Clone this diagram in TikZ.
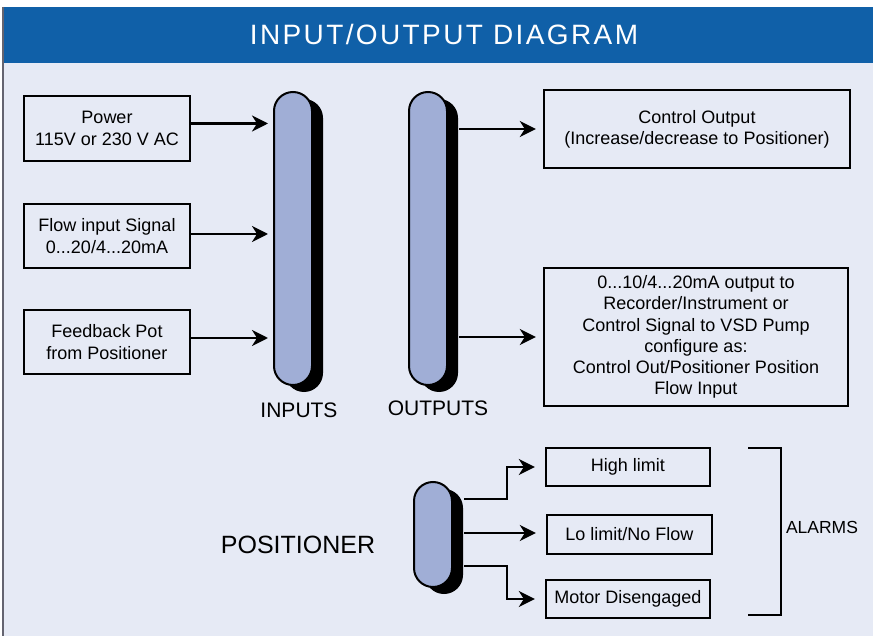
\documentclass[tikz,border=0pt]{standalone}
\usepackage{fontspec}
\setmainfont{Liberation Sans}
\usetikzlibrary{arrows.meta,shadows}
\definecolor{hdr}{RGB}{16,96,168}
\definecolor{bg}{RGB}{230,234,245}
\definecolor{pillc}{RGB}{160,174,214}
\definecolor{edge}{RGB}{100,100,112}
\tikzset{
  box/.style={draw=black, line width=2.4pt, fill=bg, align=center, inner sep=0pt,
    font=\fontsize{18}{21.3}\selectfont},
  pill/.style={draw=black, line width=2pt, fill=pillc, rounded corners=19pt,
    minimum width=38pt, inner sep=0pt,
    drop shadow={shadow xshift=11pt, shadow yshift=-7pt, fill=black, opacity=1}},
  arr/.style={line width=2.3pt, -{Stealth[length=16pt,width=16pt,inset=5pt]}},
  lbl/.style={font=\fontsize{21}{24}\selectfont, inner sep=0pt}
}
\begin{document}
\begin{tikzpicture}[x=1pt,y=-1pt]
\useasboundingbox (0,0) rectangle (873,636);
\fill[white] (0,0) rectangle (873,636);
\fill[bg] (3,63) rectangle (873,636);
\fill[hdr] (2,7) rectangle (873,63);
\draw[edge, line width=1.5pt] (3,7) -- (3,636);
\node[text=white, font=\fontsize{28}{30}\selectfont\addfontfeature{LetterSpace=8.5}, inner sep=0pt] (title) at (444,34) {INPUT/OUTPUT DIAGRAM};

% input boxes
\node[box, minimum width=166pt, minimum height=65pt] (pw) at (107,128.5) {Power\\115V or 230 V AC};
\node[box, minimum width=166pt, minimum height=64pt] (fl) at (107,236) {Flow input Signal\\0...20/4...20mA};
\node[box, minimum width=166pt, minimum height=64pt] (fb) at (107,342) {Feedback Pot\\from Positioner};

% pills
\node[pill, minimum height=293pt] (inp) at (293,238.5) {};
\node[pill, minimum height=293pt] (outp) at (428,238.5) {};
\node[pill, minimum height=105pt] (pos) at (433,534.5) {};

\node[lbl] (inl) at (299,410) {INPUTS};
\node[lbl] (outl) at (438,408) {OUTPUTS};
\node[font=\fontsize{25}{28}\selectfont, inner sep=0pt] (posl) at (298,545) {POSITIONER};

% input arrows
\coordinate (i1) at ([yshift=5pt]pw.east);
\coordinate (i2) at ([yshift=2pt]fl.east);
\coordinate (i3) at ([yshift=4pt]fb.east);
\draw[arr, shorten >=5pt] (i1) -- (inp.west |- i1);
\draw[arr, shorten >=5pt] (i2) -- (inp.west |- i2);
\draw[arr, shorten >=5pt] (i3) -- (inp.west |- i3);

% output boxes
\node[box, minimum width=306pt, minimum height=78pt] (co) at (697,129) {Control Output\\(Increase/decrease to Positioner)};
\node[box, minimum width=304pt, minimum height=138pt] (ao) at (696,337) {0...10/4...20mA output to\\Recorder/Instrument or\\Control Signal to VSD Pump\\configure as:\\Control Out/Positioner Position\\Flow Input};

\coordinate (o1) at ([xshift=11pt]outp.east |- co.west);
\coordinate (o2) at ([xshift=11pt]outp.east |- ao.west);
\draw[arr, shorten >=7pt] (o1) -- (co.west);
\draw[arr, shorten >=7pt] (o2) -- (ao.west);

% alarm boxes
\node[box, minimum width=164pt, minimum height=38pt] (hl) at (628,467) {High limit};
\node[box, minimum width=165pt, minimum height=39pt] (ll) at (629.5,534.5) {Lo limit/No Flow};
\node[box, minimum width=164pt, minimum height=38pt] (md) at (628,599) {Motor Disengaged};

\coordinate (p1) at ([xshift=11pt,yshift=35.5pt]pos.east);
\coordinate (p2) at ([xshift=11pt,yshift=1.5pt]pos.east);
\coordinate (p3) at ([xshift=11pt,yshift=-31.5pt]pos.east);
\draw[arr, shorten >=10pt] (p1) -- ++(43,0) |- (hl.west);
\draw[arr, shorten >=10pt] (p2) -- (ll.west |- p2);
\draw[arr, shorten >=10pt] (p3) -- ++(43,0) |- (md.west);

% bracket
\coordinate (bt) at (748,448);
\coordinate (bb) at (748,615);
\draw[line width=2.6pt] (bt) -- ++(33,0) -- ++(0,167) -- (bb);
\node[font=\fontsize{17.5}{20}\selectfont, inner sep=0pt] (al) at (822,527) {ALARMS};
\end{tikzpicture}
\end{document}
